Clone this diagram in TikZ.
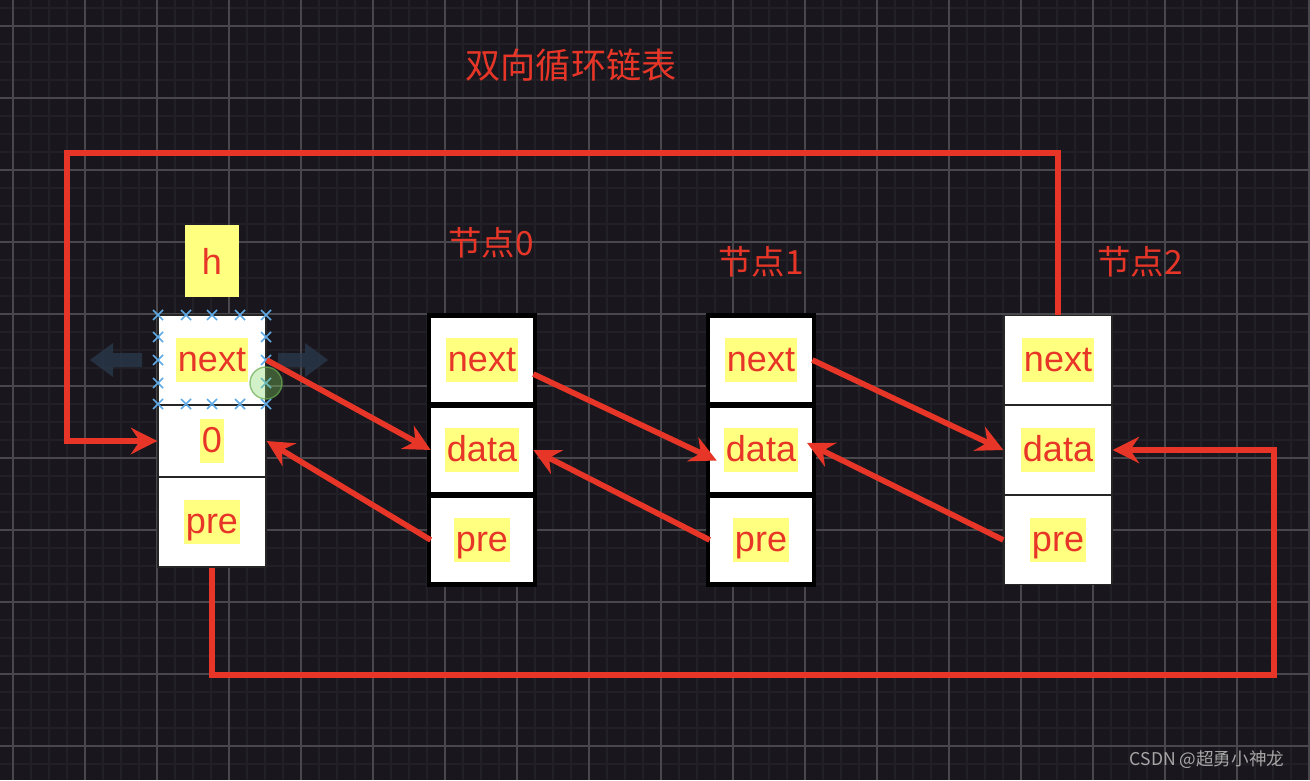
\documentclass[tikz,border=0pt]{standalone}
\usepackage{fontspec}
\setmainfont{Liberation Sans}
\newfontfamily\cjk{Noto Sans CJK SC}
\usetikzlibrary{arrows.meta}

\definecolor{bgdark}{RGB}{25,23,29}
\definecolor{gridminor}{RGB}{34,32,39}
\definecolor{gridmajor}{RGB}{72,72,76}
\definecolor{linkred}{RGB}{231,54,40}
\definecolor{hlyellow}{RGB}{255,255,128}
\definecolor{handleblue}{RGB}{95,170,230}
\definecolor{ghost}{RGB}{42,58,76}
\definecolor{hoverg}{RGB}{130,215,100}

% yellow marker behind the field names
\newcommand{\hl}[1]{{\fboxsep=0pt\colorbox{hlyellow}{\rule[-0.28em]{0pt}{1.22em}\kern1pt#1\kern1pt}}}

\begin{document}
\begin{tikzpicture}[x=0.02cm, y=-0.02cm, line join=miter,
  >={Stealth[length=15pt, width=15pt, inset=5pt]},
  link/.style={->, linkred, line width=3.2pt},
  cell/.style={fill=white, inner sep=0pt, text=linkred, font=\fontsize{20.5}{24}\selectfont},
  thincell/.style={cell, draw=black!85, line width=0.8pt, minimum width=2.16cm},
  tag/.style={text=linkred, font=\cjk\fontsize{19}{23}\selectfont},
  handle/.style={handleblue, line width=1pt}]

\useasboundingbox (0,0) rectangle (1310,780);

% ----- Background and grid -----
\fill[bgdark] (0,0) rectangle (1310,780);
\foreach \x in {13,31,...,1310} \draw[gridminor, line width=1.1pt] (\x,0) -- (\x,780);
\foreach \y in {8,26,...,780} \draw[gridminor, line width=1.1pt] (0,\y) -- (1310,\y);
\foreach \x in {13,85,...,1310} \draw[gridmajor, line width=0.6pt] (\x,0) -- (\x,780);
\foreach \y in {26,98,...,780} \draw[gridmajor, line width=0.6pt] (0,\y) -- (1310,\y);

% ----- Title and labels -----
\node[text=linkred, font=\cjk\fontsize{20}{24}\selectfont] (title) at (571,65) {双向循环链表};
\node[tag] (tag0) at (491,243) {节点0};
\node[tag] (tag1) at (761,262) {节点1};
\node[tag] (tag2) at (1140,262) {节点2};

% ----- Head node -----
\node[fill=hlyellow, text=linkred, minimum width=1.08cm, minimum height=1.44cm,
  font=\fontsize{20.5}{24}\selectfont] (hname) at (212,261) {h};
\node[thincell, minimum height=1.8cm] (hnext) at (212,360) {\hl{next}};
\node[thincell, minimum height=1.44cm] (hzero) at (212,441) {\hl{0}};
\node[thincell, minimum height=1.8cm] (hpre) at (212,522) {\hl{pre}};

% ----- Editor handles on the head -----
\fill[ghost, opacity=0.75] (142,353) -- (113,353) -- (113,343) -- (90,360)
  -- (113,377) -- (113,367) -- (142,367) -- cycle;
\fill[ghost, opacity=0.75] (278,353) -- (305,353) -- (305,343) -- (328,360)
  -- (305,377) -- (305,367) -- (278,367) -- cycle;
\foreach \x in {158,186,212,240,266}{
  \draw[handle] (\x-5,310) -- (\x+5,320) (\x-5,320) -- (\x+5,310);
  \draw[handle] (\x-5,399) -- (\x+5,409) (\x-5,409) -- (\x+5,399);
}
\foreach \y in {337,360,383}{
  \draw[handle] (153,\y-5) -- (163,\y+5) (153,\y+5) -- (163,\y-5);
  \draw[handle] (261,\y-5) -- (271,\y+5) (261,\y+5) -- (271,\y-5);
}
\filldraw[fill=hoverg, draw=hoverg!80!black, fill opacity=0.35, draw opacity=0.7, line width=0.8pt] (266,383) circle (16);

% ----- Nodes 0 and 1 (heavy frame) -----
\foreach \n/\cx in {0/482, 1/761}{
  \fill[black] (\cx-55,313) rectangle (\cx+55,587);
  \node[cell, minimum width=2.04cm, minimum height=1.68cm] (next\n) at (\cx,360) {\hl{next}};
  \node[cell, minimum width=2.04cm, minimum height=1.68cm] (data\n) at (\cx,450) {\hl{data}};
  \node[cell, minimum width=2.04cm, minimum height=1.68cm] (pre\n) at (\cx,540) {\hl{pre}};
}

% ----- Node 2 -----
\node[thincell, minimum height=1.78cm] (next2) at (1058,360) {\hl{next}};
\node[thincell, minimum height=1.78cm] (data2) at (1058,450) {\hl{data}};
\node[thincell, minimum height=1.78cm] (pre2) at (1058,540) {\hl{pre}};

% ----- next links -----
\draw[link] (hnext.east) -- (data0.west);
\draw[link] ([yshift=-8pt]next0.east) -- ([xshift=4pt,yshift=-6pt]data1.west);
\draw[link] (next1.east) -- (data2.west);

% ----- pre links -----
\draw[link] (pre0.west) -- (hzero.east);
\draw[link] (pre1.west) -- (data0.east);
\draw[link] (pre2.west) -- ([xshift=-3pt,yshift=4pt]data1.east);

% ----- Wrap around -----
\coordinate (topleft) at (67,153);
\coordinate (botright) at (1274,675);
\draw[link] (next2.north) |- (topleft) |- (hzero.west);
\draw[link] (hpre.south) |- (botright) |- (data2.east);

% ----- Watermark -----
\node[text=black!35, font=\cjk\fontsize{10}{12}\selectfont] (mark) at (1207,760) {CSDN @超勇小神龙};
\end{tikzpicture}
\end{document}
